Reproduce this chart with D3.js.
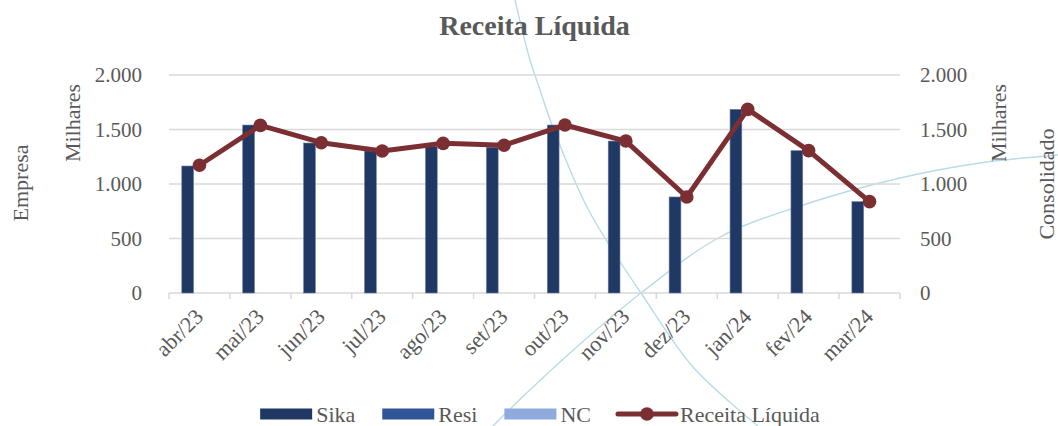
<!DOCTYPE html>
<html>
<head>
<meta charset="utf-8">
<script src="https://cdn.jsdelivr.net/npm/d3@7"></script>
<style>
  body { margin: 0; background: #fff; }
  text { font-family: "Liberation Serif", "Times New Roman", serif; fill: #595959; }
</style>
</head>
<body>
<div id="chart"></div>
<script>
const months = ['abr/23', 'mai/23', 'jun/23', 'jul/23', 'ago/23', 'set/23', 'out/23', 'nov/23', 'dez/23', 'jan/24', 'fev/24', 'mar/24']
const sika = [1165, 1541, 1376, 1303, 1342, 1337, 1541, 1394, 881, 1685, 1306, 838]
const resi = [0, 0, 0, 0, 0, 0, 0, 0, 0, 0, 0, 0]
const nc = [0, 0, 0, 0, 0, 0, 0, 0, 0, 0, 0, 0]
const receita = [1172, 1538, 1379, 1303, 1373, 1355, 1541, 1394, 881, 1685, 1306, 838]
const yTicks = [0, 500, 1000, 1500, 2000]

const seriesNames = ['Sika', 'Resi', 'NC']
const colors = { Sika: '#1f3864', Resi: '#2f5597', NC: '#8faadc', line: '#7b2f33' }

const w = 1058
const h = 426
const plotL = 169, plotR = 900, plotT = 75, plotB = 293

const svg = d3.select('#chart').append('svg')
    .attr('width', w)
    .attr('height', h)

// decorative background arcs
const deco1 = [[515, 0], [530, 60], [540, 90], [552, 125], [587, 207], [617, 257], [641, 293], [693, 367], [758, 426]]
const deco2 = [[480, 440], [493, 426], [570, 353], [641, 293], [720, 237], [800, 206], [900, 178], [980, 163], [1058, 155]]
const decoLine = d3.line().curve(d3.curveCatmullRom)
svg.selectAll('path.deco')
    .data([deco1, deco2])
    .enter()
    .append('path')
    .attr('class', 'deco')
    .attr('d', decoLine)
    .attr('fill', 'none')
    .attr('stroke', '#b9dbe7')
    .attr('stroke-width', 1.4)

// scales
const x0 = d3.scaleBand().domain(months).range([plotL, plotR])
const bw = x0.bandwidth()
const gap = bw * 0.42
const x1 = d3.scaleBand().domain(seriesNames).range([gap / 2, bw - gap / 2])
const y = d3.scaleLinear().domain([0, 2000]).range([plotB, plotT])
const yR = d3.scaleLinear().domain([0, 2000]).range([plotB, plotT])

// gridlines
svg.selectAll('line.grid')
    .data(yTicks.filter(d => d > 0))
    .enter()
    .append('line')
    .attr('x1', plotL)
    .attr('x2', plotR)
    .attr('y1', d => y(d))
    .attr('y2', d => y(d))
    .attr('stroke', '#d9d9d9')
    .attr('stroke-width', 1.5)

// x axis line and ticks
svg.append('line')
    .attr('x1', plotL).attr('x2', plotR)
    .attr('y1', y(0)).attr('y2', y(0))
    .attr('stroke', '#d9d9d9').attr('stroke-width', 1.5)
svg.selectAll('line.xtick')
    .data(months.map(m => x0(m)).concat([plotR]))
    .enter()
    .append('line')
    .attr('x1', d => d).attr('x2', d => d)
    .attr('y1', y(0)).attr('y2', y(0) + 6)
    .attr('stroke', '#d9d9d9').attr('stroke-width', 1.5)

// bars
const barData = []
months.forEach((m, i) => {
    barData.push({ m: m, s: 'Sika', v: sika[i] })
    barData.push({ m: m, s: 'Resi', v: resi[i] })
    barData.push({ m: m, s: 'NC', v: nc[i] })
})
svg.selectAll('rect.bar')
    .data(barData.filter(d => d.v > 0))
    .enter()
    .append('rect')
    .attr('x', d => x0(d.m) + x1(d.s))
    .attr('width', x1.bandwidth())
    .attr('y', d => y(d.v))
    .attr('height', d => y(0) - y(d.v))
    .attr('fill', d => colors[d.s])
    .attr('stroke', '#6d7fa3')
    .attr('stroke-width', 0.6)

// line series
const line = d3.line()
    .x((d, i) => x0(months[i]) + bw / 2)
    .y(d => yR(d))
svg.append('path')
    .datum(receita)
    .attr('d', line)
    .attr('fill', 'none')
    .attr('stroke', colors.line)
    .attr('stroke-width', 5)
    .attr('stroke-linejoin', 'round')
svg.selectAll('circle.pt')
    .data(receita)
    .enter()
    .append('circle')
    .attr('cx', (d, i) => x0(months[i]) + bw / 2)
    .attr('cy', d => yR(d))
    .attr('r', 6.8)
    .attr('fill', colors.line)

// y tick labels
const fmt = d => d3.format(',')(d).replace(/,/g, '.')
svg.selectAll('text.yl')
    .data(yTicks)
    .enter()
    .append('text')
    .attr('x', 142)
    .attr('y', d => y(d))
    .attr('dy', '0.35em')
    .attr('text-anchor', 'end')
    .style('font-size', '21px')
    .text(fmt)
svg.selectAll('text.yr')
    .data(yTicks)
    .enter()
    .append('text')
    .attr('x', 920)
    .attr('y', d => yR(d))
    .attr('dy', '0.35em')
    .style('font-size', '21px')
    .text(fmt)

// x tick labels
svg.selectAll('text.xl')
    .data(months)
    .enter()
    .append('text')
    .attr('transform', d => `translate(${x0(d) + bw / 2 + 5},${y(0) + 25}) rotate(-45)`)
    .attr('text-anchor', 'end')
    .style('font-size', '22px')
    .text(d => d)

// axis titles
const axisTitles = [
    { t: 'Empresa', x: 20, y: 183 },
    { t: 'Milhares', x: 72, y: 123 },
    { t: 'Milhares', x: 998, y: 123 },
    { t: 'Consolidado', x: 1046, y: 184 }
]
svg.selectAll('text.at')
    .data(axisTitles)
    .enter()
    .append('text')
    .attr('transform', d => `translate(${d.x},${d.y}) rotate(-90)`)
    .attr('dy', '0.35em')
    .attr('text-anchor', 'middle')
    .style('font-size', '22px')
    .text(d => d.t)

// title
svg.append('text')
    .attr('x', (plotL + plotR) / 2)
    .attr('y', 35)
    .attr('text-anchor', 'middle')
    .style('font-size', '28px')
    .style('font-weight', 'bold')
    .text('Receita Líquida')

// legend
const legendItems = seriesNames.map(s => ({ name: s, type: 'bar' })).concat([{ name: 'Receita Líquida', type: 'line' }])
const lg = svg.append('g')
let lx = 0
legendItems.forEach((d, i) => {
    const g = lg.append('g').attr('transform', `translate(${lx},0)`)
    if (d.type === 'bar') {
        g.append('rect').attr('x', 0).attr('y', -5.5).attr('width', 52).attr('height', 11).attr('fill', colors[d.name])
    } else {
        g.append('line').attr('x1', 0).attr('x2', 58).attr('y1', 0).attr('y2', 0)
            .attr('stroke', colors.line).attr('stroke-width', 5).attr('stroke-linecap', 'round')
        g.append('circle').attr('cx', 29).attr('cy', 0).attr('r', 6.8).attr('fill', colors.line)
    }
    const sw = d.type === 'bar' ? 56 : 62
    const t = g.append('text').attr('x', sw).attr('y', 0).attr('dy', '0.35em')
        .style('font-size', '22px').text(d.name)
    lx += sw + t.node().getComputedTextLength() + 27
})
const lw = lx - 27
lg.attr('transform', `translate(${540 - lw / 2},414)`)
</script>
</body>
</html>
